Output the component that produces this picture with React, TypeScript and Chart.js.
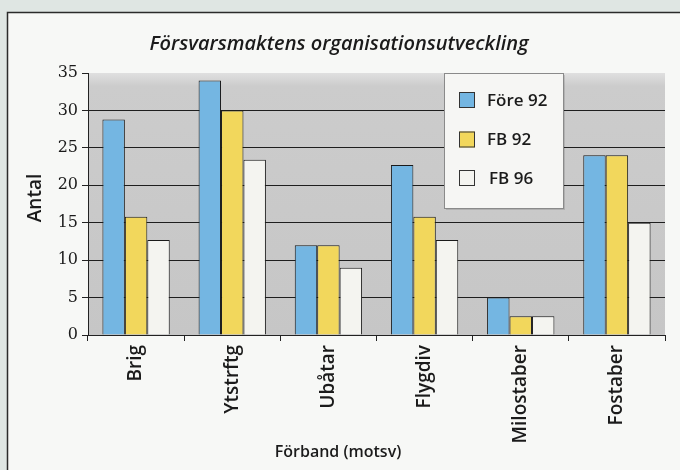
import React, { useEffect, useRef } from "react";
import { Chart, registerables } from "chart.js";

Chart.register(...registerables);

const categories = ["Brig", "Ytstrftg", "Ubåtar", "Flygdiv", "Milostaber", "Fostaber"];
const fore92 = [28.8, 34, 12, 22.7, 5, 24];
const fb92 = [15.8, 30, 12, 15.8, 2.5, 24];
const fb96 = [12.7, 23.4, 9, 12.7, 2.5, 15];
const seriesLabels = ["Före 92", "FB 92", "FB 96"];
const seriesColors = ["#74b6e2", "#f2d75c", "#f4f4f0"];
const yTicks = [0, 5, 10, 15, 20, 25, 30, 35];
const chartTitle = "Försvarsmaktens organisationsutveckling";
const xTitle = "Förband (motsv)";
const yTitle = "Antal";

const TEXT = "#1b1b1b";
const SANS = "'Open Sans', 'DejaVu Sans', sans-serif";

const decor = {
  id: "decor",
  beforeDraw(chart: any) {
    const { ctx, chartArea: a, width, height } = chart;
    ctx.save();
    ctx.fillStyle = "#dfe6e3";
    ctx.fillRect(0, 0, width, height);
    ctx.fillStyle = "#f7f8f6";
    ctx.fillRect(7, 12, width - 7, height - 12);
    ctx.strokeStyle = "#2b2b2b";
    ctx.lineWidth = 1.5;
    ctx.beginPath();
    ctx.moveTo(7.5, height);
    ctx.lineTo(7.5, 12.5);
    ctx.lineTo(width, 12.5);
    ctx.stroke();
    const g = ctx.createLinearGradient(0, a.top, 0, a.bottom);
    g.addColorStop(0, "#e0e0e0");
    g.addColorStop(0.05, "#cccccc");
    g.addColorStop(1, "#c6c6c6");
    ctx.fillStyle = g;
    ctx.fillRect(a.left, a.top, a.right - a.left, a.bottom - a.top);
    ctx.restore();
  },
  afterDraw(chart: any) {
    const { ctx, chartArea: a } = chart;
    ctx.save();
    ctx.fillStyle = TEXT;
    ctx.textAlign = "center";
    ctx.textBaseline = "middle";
    ctx.font = `italic 600 20px ${SANS}`;
    ctx.fillText(chartTitle, 339, 44);
    ctx.font = `600 16px ${SANS}`;
    ctx.fillText(xTitle, 338, 452);
    ctx.save();
    ctx.translate(36, 198);
    ctx.rotate(-Math.PI / 2);
    ctx.font = `600 19px ${SANS}`;
    ctx.fillText(yTitle, 0, 0);
    ctx.restore();

    // legend
    const lx = 444, ly = 73, lw = 119, lh = 135;
    ctx.fillStyle = "rgba(0,0,0,0.12)";
    ctx.fillRect(lx + 2, ly + 2, lw, lh);
    ctx.fillStyle = "#f6f6f4";
    ctx.fillRect(lx, ly, lw, lh);
    ctx.strokeStyle = "#8a8a8a";
    ctx.lineWidth = 1;
    ctx.strokeRect(lx + 0.5, ly + 0.5, lw, lh);
    const ys = [100, 139.5, 178];
    ctx.textAlign = "left";
    ctx.font = `600 17px ${SANS}`;
    chart.data.datasets.forEach((ds: any, i: number) => {
      ctx.fillStyle = ds.backgroundColor;
      ctx.fillRect(459, ys[i] - 8, 16, 16);
      ctx.strokeStyle = "#333";
      ctx.strokeRect(459.5, ys[i] - 7.5, 15, 15);
      ctx.fillStyle = TEXT;
      ctx.fillText(ds.label, i === 2 ? 489 : 487, ys[i] + 1);
    });
    ctx.restore();
  },
};

export default function App() {
  const ref = useRef<HTMLCanvasElement | null>(null);
  useEffect(() => {
    if (!ref.current) return;
    const series = [fore92, fb92, fb96];
    const chart = new Chart(ref.current, {
      type: "bar",
      data: {
        labels: categories,
        datasets: series.map((d, i) => ({
          label: seriesLabels[i],
          data: d,
          backgroundColor: seriesColors[i],
          borderColor: "#1a1a1a",
          borderWidth: 1,
          categoryPercentage: 0.7,
          barPercentage: 1.0,
        })),
      },
      options: {
        responsive: false,
        animation: false,
        layout: { padding: { top: 73, right: 15, left: 0, bottom: 0 } },
        plugins: {
          legend: { display: false },
          title: { display: false },
          tooltip: { enabled: false },
        },
        scales: {
          x: {
            grid: {
              offset: true,
              drawOnChartArea: false,
              drawTicks: true,
              tickLength: 6,
              tickColor: "#222",
            },
            border: { display: true, color: "#222", width: 1 },
            ticks: {
              minRotation: 90,
              maxRotation: 90,
              autoSkip: false,
              padding: 4,
              color: TEXT,
              font: { family: SANS, size: 19, weight: "600" },
            },
            afterFit(s: any) {
              s.height = 135;
            },
          },
          y: {
            min: 0,
            max: 35,
            afterBuildTicks(s: any) {
              s.ticks = yTicks.map((v) => ({ value: v }));
            },
            ticks: {
              padding: 4,
              color: TEXT,
              font: { family: "'DejaVu Serif', serif", size: 16 },
            },
            grid: {
              color: (c: any) => (c.tick && c.tick.value === 35 ? "rgba(0,0,0,0)" : "#1e1e1e"),
              tickColor: "#222",
              tickLength: 6,
              lineWidth: 1,
            },
            border: { display: true, color: "#222", width: 1 },
            afterFit(s: any) {
              s.width = 88;
            },
          },
        },
      },
      plugins: [decor],
    } as any);
    return () => chart.destroy();
  }, []);
  return (
    <div style={{ position: "fixed", left: 0, top: 0, width: 680, height: 470 }}>
      <canvas ref={ref} width={680} height={470} style={{ width: 680, height: 470, display: "block" }} />
    </div>
  );
}
